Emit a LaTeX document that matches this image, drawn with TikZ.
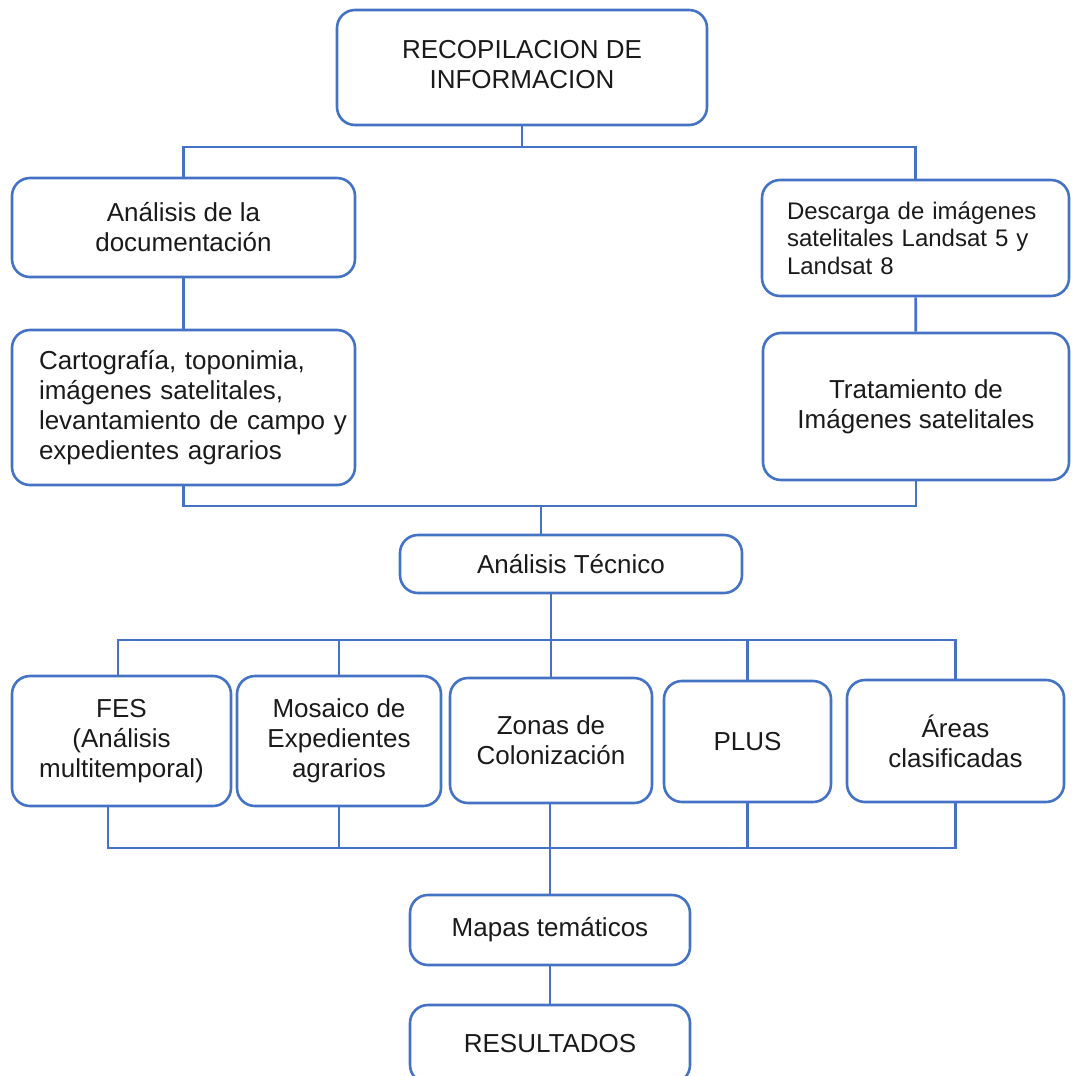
\documentclass[tikz,border=0pt]{standalone}
\usepackage{fontspec}
\setmainfont{Liberation Sans}
\definecolor{blueline}{HTML}{4472C4}
\definecolor{txt}{HTML}{1A1A1A}
\tikzset{
  box/.style={draw=blueline, line width=2.6pt, rounded corners=18pt, align=center,
    inner sep=0pt, text=txt, font=\fontsize{26pt}{30pt}\selectfont},
  conn/.style={draw=blueline, line width=2.6pt},
}
\begin{document}
\begin{tikzpicture}[x=1pt,y=-1pt]
\useasboundingbox (0,0) rectangle (1071,1076);
% boxes
\node[box, minimum width=370pt, minimum height=115pt] (top) at (522,67.5) {\raisebox{6pt}{\begin{tabular}{@{}c@{}}RECOPILACION DE\\INFORMACION\end{tabular}}};
\node[box, minimum width=343pt, minimum height=99pt] (ad) at (183.5,227.5) {Análisis de la\\documentación};
\node[box, minimum width=307pt, minimum height=116pt, align=left, text width=257pt, inner xsep=25pt,
  font=\fontsize{24pt}{27.5pt}\selectfont] (desc) at (915.5,238) {Descarga de imágenes\\satelitales Landsat 5 y\\Landsat 8};
\node[box, minimum width=343pt, minimum height=155pt, align=left, text width=289pt, inner xsep=27pt] (cart) at (183.5,407.5)
  {\mbox{Cartografía, toponimia,}\\\mbox{imágenes satelitales,}\\\mbox{levantamiento de campo y}\\\mbox{expedientes agrarios}};
\node[box, minimum width=306pt, minimum height=147pt] (trat) at (916,406.5) {Tratamiento de\\Imágenes satelitales};
\node[box, minimum width=342pt, minimum height=58pt] (at) at (571,564) {Análisis Técnico};
\node[box, minimum width=219pt, minimum height=130pt] (fes) at (121.5,741) {FES\\(Análisis\\multitemporal)};
\node[box, minimum width=204pt, minimum height=130pt] (mos) at (339,741) {Mosaico de\\Expedientes\\agrarios};
\node[box, minimum width=202pt, minimum height=125pt] (zon) at (551,740.5) {Zonas de\\Colonización};
\node[box, minimum width=167pt, minimum height=121pt] (plus) at (747.5,741.5) {PLUS};
\node[box, minimum width=217pt, minimum height=122pt] (areas) at (955.5,741) {Áreas\\clasificadas};
\node[box, minimum width=280pt, minimum height=70pt] (mapas) at (550,930) {Mapas temáticos};
\node[box, minimum width=280pt, minimum height=78pt] (res) at (550,1044) {RESULTADOS};
% bus coordinates
\coordinate (b1) at (522,147);
\coordinate (b2) at (541,506);
\coordinate (b3) at (551,640);
\coordinate (b4) at (550,848);
\coordinate (fl) at (108,848);
\coordinate (tl) at (118,640);
% connectors
\draw[conn] (top) -- (b1);
\draw[conn] (ad.north) |- (b1) -| (desc.north);
\draw[conn] (ad) -- (cart);
\draw[conn] (desc) -- (trat);
\draw[conn] (cart.south) |- (b2) -| (trat.south);
\draw[conn] (b2) -- (b2 |- at.north);
\draw[conn] (at.south -| b3) -- (zon.north -| b3);
\draw[conn] (fes.north -| tl) -- (tl) -- (b3) -| (areas.north);
\draw[conn] (mos.north) -- (mos.north |- b3);
\draw[conn] (plus.north) -- (plus.north |- b3);
\draw[conn] (fes.south -| fl) -- (fl) -- (b4) -| (areas.south);
\draw[conn] (mos.south) -- (mos.south |- b4);
\draw[conn] (plus.south) -- (plus.south |- b4);
\draw[conn] (zon.south -| b4) -- (mapas.north -| b4);
\draw[conn] (mapas) -- (res);
\end{tikzpicture}
\end{document}
